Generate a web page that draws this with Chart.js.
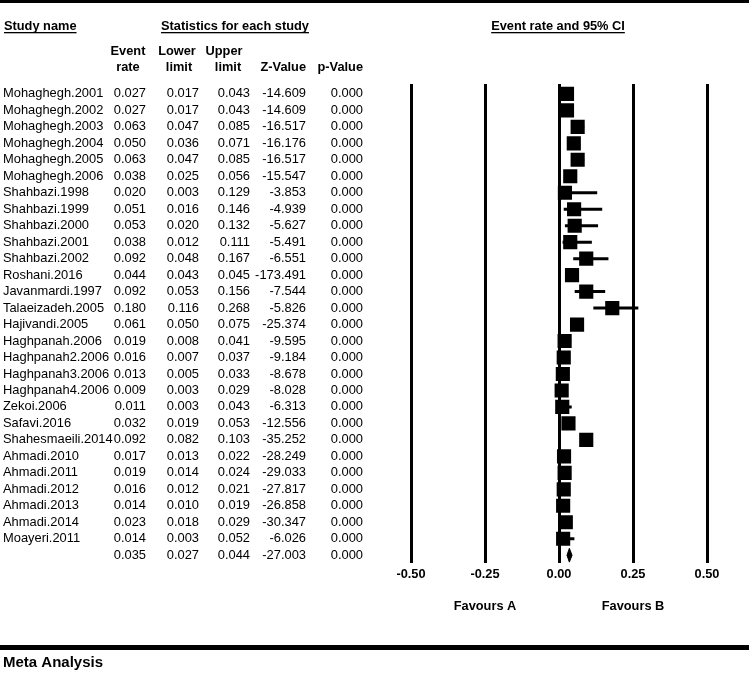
<!DOCTYPE html>
<html>
<head>
<meta charset="utf-8">
<script src="https://cdn.jsdelivr.net/npm/chart.js@4"></script>
<style>
  html, body { margin: 0; padding: 0; background: #fff; }
  canvas { display: block; }
</style>
</head>
<body>
<canvas id="forest" width="749" height="678"></canvas>
<script>
const studies = [
  "Mohaghegh.2001", "Mohaghegh.2002", "Mohaghegh.2003", "Mohaghegh.2004",
  "Mohaghegh.2005", "Mohaghegh.2006", "Shahbazi.1998", "Shahbazi.1999",
  "Shahbazi.2000", "Shahbazi.2001", "Shahbazi.2002", "Roshani.2016",
  "Javanmardi.1997", "Talaeizadeh.2005", "Hajivandi.2005", "Haghpanah.2006",
  "Haghpanah2.2006", "Haghpanah3.2006", "Haghpanah4.2006", "Zekoi.2006",
  "Safavi.2016", "Shahesmaeili.2014", "Ahmadi.2010", "Ahmadi.2011",
  "Ahmadi.2012", "Ahmadi.2013", "Ahmadi.2014", "Moayeri.2011"
];
const eventRate = [0.027, 0.027, 0.063, 0.050, 0.063, 0.038, 0.020, 0.051, 0.053, 0.038, 0.092, 0.044, 0.092, 0.180,
  0.061, 0.019, 0.016, 0.013, 0.009, 0.011, 0.032, 0.092, 0.017, 0.019, 0.016, 0.014, 0.023, 0.014];
const lowerLimit = [0.017, 0.017, 0.047, 0.036, 0.047, 0.025, 0.003, 0.016, 0.020, 0.012, 0.048, 0.043, 0.053, 0.116,
  0.050, 0.008, 0.007, 0.005, 0.003, 0.003, 0.019, 0.082, 0.013, 0.014, 0.012, 0.010, 0.018, 0.003];
const upperLimit = [0.043, 0.043, 0.085, 0.071, 0.085, 0.056, 0.129, 0.146, 0.132, 0.111, 0.167, 0.045, 0.156, 0.268,
  0.075, 0.041, 0.037, 0.033, 0.029, 0.043, 0.053, 0.103, 0.022, 0.024, 0.021, 0.019, 0.029, 0.052];
const zValue = [-14.609, -14.609, -16.517, -16.176, -16.517, -15.547, -3.853, -4.939, -5.627, -5.491, -6.551, -173.491,
  -7.544, -5.826, -25.374, -9.595, -9.184, -8.678, -8.028, -6.313, -12.556, -35.252, -28.249, -29.033, -27.817,
  -26.858, -30.347, -6.026];
const pValue = [0.000, 0.000, 0.000, 0.000, 0.000, 0.000, 0.000, 0.000, 0.000, 0.000, 0.000, 0.000, 0.000, 0.000,
  0.000, 0.000, 0.000, 0.000, 0.000, 0.000, 0.000, 0.000, 0.000, 0.000, 0.000, 0.000, 0.000, 0.000];

// pooled result: event rate, lower, upper, z, p
const pooled = [0.035, 0.027, 0.044, -27.003, 0.000];

const xTicks = [-0.50, -0.25, 0.00, 0.25, 0.50];

const FONT = '"Liberation Sans", Arial, Helvetica, sans-serif';
const summaryRow = studies.length;

// one line dataset per study for the confidence interval
const ciSets = studies.map((s, i) => ({
  type: 'line',
  data: [{ x: lowerLimit[i], y: i }, { x: upperLimit[i], y: i }],
  borderColor: '#000',
  borderWidth: 3,
  pointRadius: 0,
  fill: false
}));

const pointSet = {
  type: 'scatter',
  data: eventRate.map((v, i) => ({ x: v, y: i })),
  pointStyle: 'rect',
  pointRadius: 10,
  pointBorderWidth: 0,
  backgroundColor: '#000',
  borderColor: '#000'
};

// diamond for the pooled estimate
const dh = 0.42;
const diamondSet = {
  type: 'line',
  data: [
    { x: pooled[1], y: summaryRow },
    { x: pooled[0], y: summaryRow - dh },
    { x: pooled[2], y: summaryRow },
    { x: pooled[0], y: summaryRow + dh },
    { x: pooled[1], y: summaryRow }
  ],
  borderColor: '#000',
  backgroundColor: '#000',
  borderWidth: 1,
  pointRadius: 0,
  tension: 0,
  fill: 'shape'
};

// the table on the left, headers and footer
const tablePlugin = {
  id: 'forestTable',
  afterDraw(chart) {
    const ctx = chart.ctx;
    const y = chart.scales.y;
    ctx.save();
    ctx.fillStyle = '#000';
    ctx.strokeStyle = '#000';
    ctx.textBaseline = 'middle';

    // top and bottom bars
    ctx.fillRect(0, 0, 749, 3);
    ctx.fillRect(0, 645, 749, 5);

    const underlined = (txt, x, yy, align) => {
      ctx.textAlign = align;
      ctx.fillText(txt, x, yy);
      const w = ctx.measureText(txt).width;
      const x0 = align === 'center' ? x - w / 2 : x;
      ctx.fillRect(x0, yy + 6, w, 1.3);
    };

    ctx.font = 'bold 12.8px ' + FONT;
    underlined('Study name', 4, 26, 'left');
    underlined('Statistics for each study', 235, 26, 'center');
    underlined('Event rate and 95% CI', 558, 26, 'center');

    ctx.textAlign = 'center';
    ctx.fillText('Event', 128, 51);
    ctx.fillText('rate', 128, 67);
    ctx.fillText('Lower', 177, 51);
    ctx.fillText('limit', 179, 67);
    ctx.fillText('Upper', 224, 51);
    ctx.fillText('limit', 228, 67);
    ctx.textAlign = 'right';
    ctx.fillText('Z-Value', 306, 67);
    ctx.fillText('p-Value', 363, 67);

    // rows
    ctx.font = '12.9px ' + FONT;
    const rowText = (name, vals, row) => {
      const py = y.getPixelForValue(row);
      ctx.textAlign = 'left';
      if (name) ctx.fillText(name, 3, py);
      ctx.textAlign = 'right';
      ctx.fillText(vals[0].toFixed(3), 146, py);
      ctx.fillText(vals[1].toFixed(3), 199, py);
      ctx.fillText(vals[2].toFixed(3), 250, py);
      ctx.fillText(vals[3].toFixed(3), 306, py);
      ctx.fillText(vals[4].toFixed(3), 363, py);
    };
    studies.forEach((s, i) => {
      rowText(s, [eventRate[i], lowerLimit[i], upperLimit[i], zValue[i], pValue[i]], i);
    });
    rowText('', pooled, summaryRow);

    // favours labels
    const x = chart.scales.x;
    ctx.font = 'bold 12.8px ' + FONT;
    ctx.textAlign = 'center';
    ctx.fillText('Favours A', x.getPixelForValue(-0.25), 606);
    ctx.fillText('Favours B', x.getPixelForValue(0.25), 606);

    ctx.textAlign = 'left';
    ctx.font = 'bold 15px ' + FONT;
    ctx.fillText('Meta Analysis', 3, 663);
    ctx.restore();
  }
};

new Chart('forest', {
  type: 'scatter',
  data: { datasets: [...ciSets, pointSet, diamondSet] },
  options: {
    responsive: false,
    animation: false,
    events: [],
    devicePixelRatio: 1,
    layout: { padding: { left: 411, right: 42, top: 84, bottom: 92 } },
    plugins: {
      legend: { display: false },
      tooltip: { enabled: false }
    },
    scales: {
      x: {
        type: 'linear',
        min: -0.5,
        max: 0.5,
        afterBuildTicks: scale => { scale.ticks = xTicks.map(v => ({ value: v })); },
        ticks: {
          padding: 4,
          color: '#000',
          font: { family: FONT, size: 12.8, weight: 'bold' },
          callback: v => v.toFixed(2),
          maxRotation: 0
        },
        grid: { color: '#000', lineWidth: 3, drawTicks: false },
        border: { display: false }
      },
      y: {
        type: 'linear',
        display: false,
        reverse: true,
        min: -0.6,
        max: 28.45
      }
    }
  },
  plugins: [tablePlugin]
});
</script>
</body>
</html>
